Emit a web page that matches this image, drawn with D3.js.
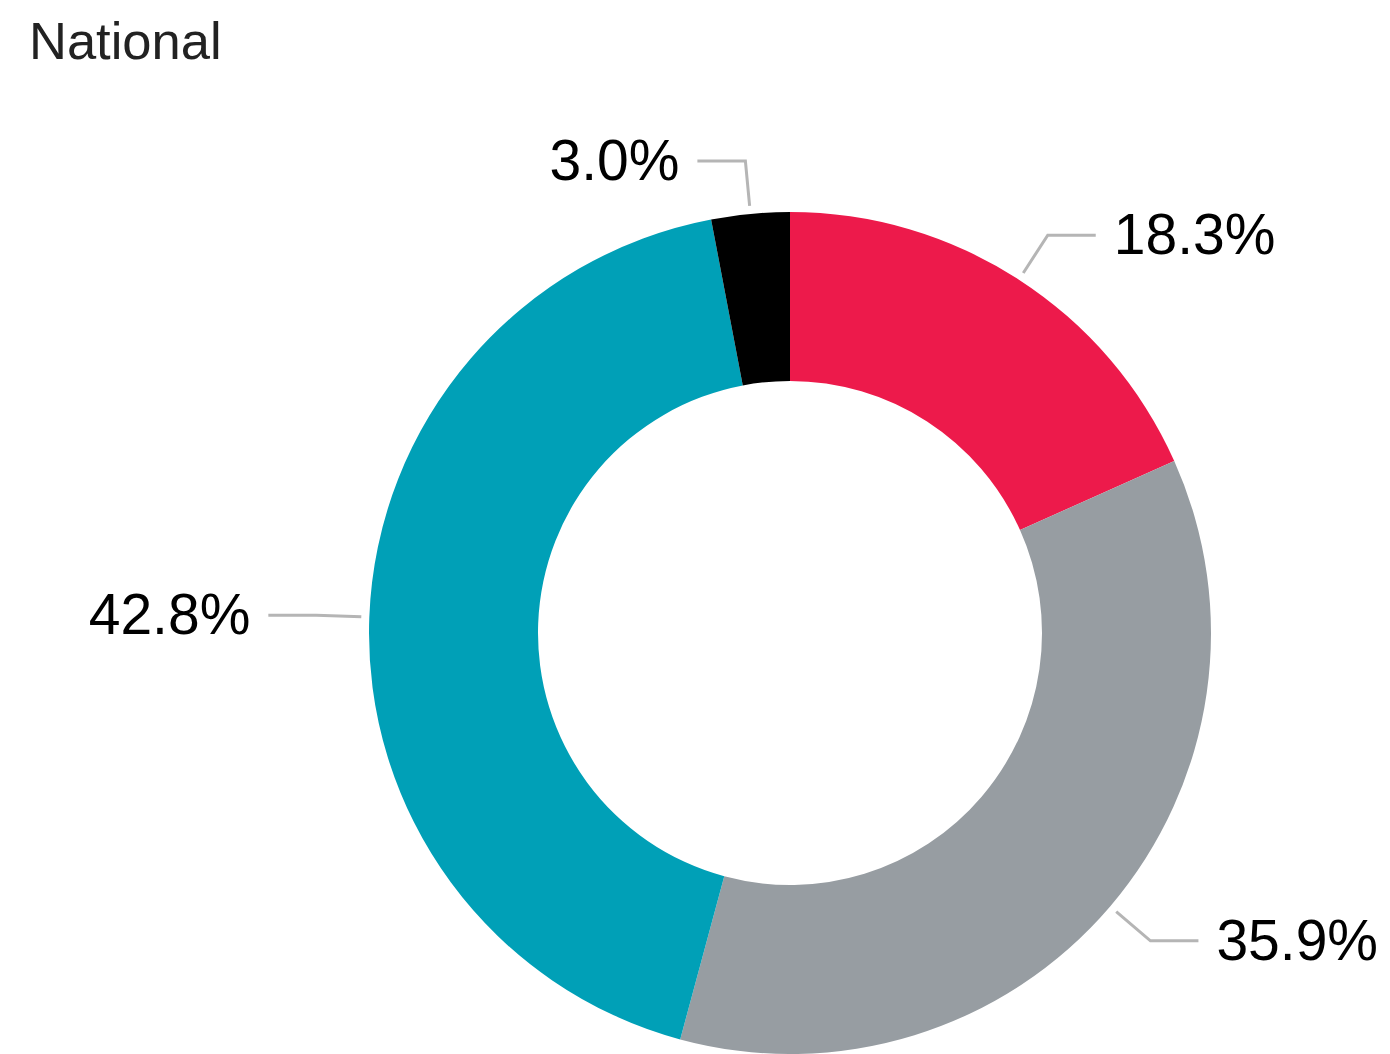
<!DOCTYPE html>
<meta charset="utf-8">
<script src="https://d3js.org/d3.v7.min.js"></script>
<style>
  body { margin: 0; background: #fff; }
</style>
<div id="my_dataviz"></div>
<script>

// data
var categories = ["A", "B", "C", "D"]
var values = [18.3, 35.9, 42.8, 3.0]
var labels = ["18.3%", "35.9%", "42.8%", "3.0%"]
var colors = ["#ED1A4B", "#979DA2", "#00A0B7", "#000000"]

var width = 1390, height = 1054
var cx = 790, cy = 633
var outerR = 421, innerR = 252

var svg = d3.select("#my_dataviz")
  .append("svg")
  .attr("width", width)
  .attr("height", height)

// title
svg.append("text")
  .attr("x", 29)
  .attr("y", 59)
  .style("font-family", "Liberation Sans, Arial, sans-serif")
  .style("font-size", "52.5px")
  .style("fill", "#222")
  .text("National")

var data = categories.map(function(c, i) {
  return {key: c, value: values[i], label: labels[i], color: colors[i]}
})

var pie = d3.pie()
  .value(function(d) { return d.value })
  .sort(null)

var arc = d3.arc()
  .innerRadius(innerR)
  .outerRadius(outerR)

var g = svg.append("g")
  .attr("transform", "translate(" + cx + "," + cy + ")")

var arcs = pie(data)

g.selectAll("path")
  .data(arcs)
  .enter()
  .append("path")
  .attr("d", arc)
  .attr("fill", function(d) { return d.data.color })

// leader lines + labels
var startArc = d3.arc().innerRadius(429).outerRadius(429)
var elbowArc = d3.arc().innerRadius(474).outerRadius(474)
var hLen = 48, gap = 18, fontSize = 57

function midAngle(d) { return (d.startAngle + d.endAngle) / 2 }

g.selectAll("polyline")
  .data(arcs)
  .enter()
  .append("polyline")
  .attr("points", function(d) {
    var p1 = startArc.centroid(d)
    var p2 = elbowArc.centroid(d)
    var right = Math.sin(midAngle(d)) > 0
    var p3 = [p2[0] + (right ? hLen : -hLen), p2[1]]
    return [p1, p2, p3]
  })
  .attr("fill", "none")
  .attr("stroke", "#b5b5b5")
  .attr("stroke-width", 3)

g.selectAll("text.label")
  .data(arcs)
  .enter()
  .append("text")
  .attr("class", "label")
  .attr("x", function(d) {
    var p2 = elbowArc.centroid(d)
    var right = Math.sin(midAngle(d)) > 0
    return p2[0] + (right ? hLen + gap : -(hLen + gap))
  })
  .attr("y", function(d) { return elbowArc.centroid(d)[1] + fontSize * 0.33 })
  .attr("text-anchor", function(d) { return Math.sin(midAngle(d)) > 0 ? "start" : "end" })
  .style("font-family", "Liberation Sans, Arial, sans-serif")
  .style("font-size", fontSize + "px")
  .style("fill", "#000")
  .text(function(d) { return d.data.label })

</script>
